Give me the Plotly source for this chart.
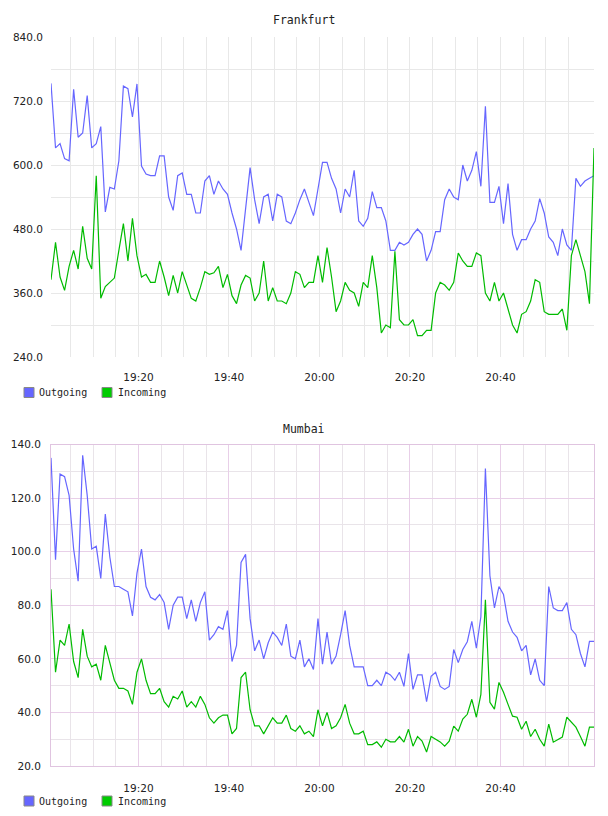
import pandas as pd
import plotly.graph_objects as go

# ---------------- data ----------------
times = pd.date_range("2024-01-01 19:00:40", periods=121, freq="1min")

fra_outgoing = [
    753, 632, 640, 612, 608, 742, 652, 660, 730, 632, 640, 672, 512, 558, 555, 608,
    748, 743, 690, 752, 598, 583, 580, 580, 617, 617, 540, 515, 580, 585, 545, 545,
    510, 510, 570, 580, 545, 570, 555, 545, 510, 480, 440, 520, 595, 535, 490, 540,
    545, 495, 545, 540, 495, 490, 510, 535, 555, 530, 505, 555, 605, 605, 575, 555,
    510, 555, 540, 590, 495, 485, 500, 550, 520, 520, 495, 440, 440, 455, 450, 455,
    470, 480, 470, 420, 440, 475, 475, 535, 555, 540, 535, 600, 570, 590, 625, 560,
    710, 530, 530, 560, 490, 565, 470, 440, 460, 460, 480, 495, 537, 510, 465, 455,
    430, 480, 450, 440, 575, 560, 570, 575, 580,
]
fra_incoming = [
    385, 455, 390, 365, 410, 440, 405, 485, 425, 405, 580, 350, 372, 380, 388, 440,
    490, 420, 500, 430, 390, 395, 380, 380, 420, 390, 355, 393, 360, 400, 375, 350,
    345, 370, 400, 395, 398, 410, 370, 395, 355, 340, 375, 393, 388, 345, 360, 420,
    345, 370, 345, 345, 340, 360, 400, 395, 370, 380, 380, 430, 380, 445, 390, 325,
    345, 380, 365, 360, 335, 380, 370, 430, 370, 285, 300, 295, 438, 310, 300, 300,
    310, 280, 280, 290, 290, 360, 380, 375, 365, 380, 435, 420, 410, 410, 435, 430,
    360, 345, 380, 345, 360, 330, 300, 285, 320, 325, 345, 385, 380, 325, 320, 320,
    320, 330, 290, 430, 460, 430, 400, 340, 632,
]
mum_outgoing = [
    135, 97, 129, 128, 121, 101, 89, 136, 121, 101, 102, 90, 114, 98, 87, 87,
    86, 85, 76, 92, 101, 87, 83, 82, 84, 81, 71, 80, 83, 83, 75, 82,
    74, 81, 85, 67, 69, 72, 71, 78, 59, 65, 96, 99, 75, 63, 67, 60,
    66, 70, 68, 65, 73, 61, 60, 67, 57, 60, 56, 75, 58, 70, 58, 61,
    69, 78, 65, 57, 57, 57, 50, 50, 52, 50, 55, 54, 52, 55, 49.7, 62,
    48.6, 54, 54, 44, 53.5, 55, 49.7, 48.6, 49.7, 63.5, 58.6, 63.5, 66.4, 74, 64, 75.7,
    131, 91, 79, 87, 84, 74, 70, 68, 63, 65, 54, 60, 52, 50, 87, 79,
    78, 78, 81, 71, 69, 62, 57, 66.5, 66.5,
]
mum_incoming = [
    86, 55, 67, 65, 73, 59, 53, 71, 61, 57, 58, 52, 65, 58, 52, 49,
    49, 48, 43, 55, 60, 52, 47, 47, 49, 44, 42, 46, 45, 48, 42, 44,
    42, 46, 43, 38, 36, 38, 39, 39, 32, 34, 53, 55, 41, 35, 35, 32,
    35, 38, 36, 36, 39, 34, 33, 35, 32, 33, 31, 41, 35, 40, 34, 35,
    38, 43, 36, 32, 32, 33, 28, 28, 29, 27, 30, 29, 29, 31, 28.9, 33.7,
    27.4, 31, 29.3, 25.2, 31, 30, 29, 27.4, 29.3, 34.9, 33, 37.5, 39.3, 44.9, 38.2, 46.7,
    82, 43.8, 41.2, 51.2, 47.5, 43, 38.6, 38.2, 33.7, 36.7, 31, 33.7, 30, 27.4, 35.6, 28.9,
    30, 30.8, 38.2, 36.3, 34.5, 31, 27.4, 34.5, 34.5,
]

series_names = ["Outgoing", "Incoming"]
titles = ["Frankfurt", "Mumbai"]
x_tick_labels = ["19:20", "19:40", "20:00", "20:20", "20:40"]
fra_ticks = [240, 360, 480, 600, 720, 840]
mum_ticks = [20, 40, 60, 80, 100, 120, 140]

# ---------------- style ----------------
BLUE = "#6666ff"
GREEN = "#00bb00"
SW_BLUE = "#6666ff"
SW_GREEN = "#00cc00"
W, H = 608, 816
MONO = "DejaVu Sans Mono"
SANS = "DejaVu Sans"
DAY = "2024-01-01 "

x_tickvals = [DAY + t for t in x_tick_labels]
minor_x = [t for t in pd.date_range(DAY + "19:05", DAY + "20:55", freq="5min")
           if t.strftime("%H:%M") not in x_tick_labels]

fig = go.Figure()


def add_lines(xa, ya, out_vals, in_vals):
    fig.add_trace(go.Scatter(x=times, y=out_vals, mode="lines", xaxis=xa, yaxis=ya,
                             line=dict(color=BLUE, width=1.2), showlegend=False,
                             name=series_names[0]))
    fig.add_trace(go.Scatter(x=times, y=in_vals, mode="lines", xaxis=xa, yaxis=ya,
                             line=dict(color=GREEN, width=1.2), showlegend=False,
                             name=series_names[1]))


add_lines("x", "y", fra_outgoing, fra_incoming)
add_lines("x2", "y2", mum_outgoing, mum_incoming)

xr = [times[0], times[-1]]
xdom = [51 / W, 594 / W]
fra_dom = [1 - 357 / H, 1 - 37 / H]
mum_dom = [1 - 766 / H, 1 - 444.5 / H]

tickfont = dict(family=SANS, size=10.5, color="#222222")

fra_grid = "#e8e8e8"
mum_major = "#e8cfe8"
mum_minor = "#e9e4e9"
mum_line = "#e0c4e0"


def xaxis_cfg(anchor, major_col, minor_col, frame):
    d = dict(domain=xdom, anchor=anchor, type="date", range=xr,
             tickvals=x_tickvals, ticktext=x_tick_labels,
             showgrid=True, gridcolor=major_col, gridwidth=1,
             minor=dict(tickvals=minor_x, showgrid=True, gridcolor=minor_col, gridwidth=1),
             zeroline=False, ticks="", automargin=False,
             tickfont=tickfont, ticklabelstandoff=12)
    if frame:
        d.update(showline=True, linecolor=mum_line, linewidth=1, mirror=True)
    else:
        d.update(showline=False)
    return d


fig.update_layout(
    width=W, height=H,
    margin=dict(l=0, r=0, t=0, b=0, autoexpand=False),
    paper_bgcolor="white", plot_bgcolor="white",
    showlegend=False,
    xaxis=xaxis_cfg("y", fra_grid, fra_grid, False),
    yaxis=dict(domain=fra_dom, anchor="x", range=[240, 840], tickvals=fra_ticks,
               tickformat=".1f", showgrid=False,
               minor=dict(dtick=60, tick0=0, showgrid=True, gridcolor=fra_grid, gridwidth=1),
               showline=False, zeroline=False, ticks="", automargin=False,
               tickfont=tickfont, ticklabelstandoff=7),
    xaxis2=xaxis_cfg("y2", mum_major, mum_minor, True),
    yaxis2=dict(domain=mum_dom, anchor="x2", range=[20, 140], tickvals=mum_ticks,
                tickformat=".1f", showgrid=True, gridcolor=mum_major, gridwidth=1,
                minor=dict(dtick=10, tick0=0, showgrid=True, gridcolor=mum_minor, gridwidth=1),
                showline=True, linecolor=mum_line, linewidth=1, mirror=True,
                zeroline=False, ticks="", automargin=False,
                tickfont=tickfont, ticklabelstandoff=7),
)

annotations = [
    dict(text=titles[0], x=0.5, y=1 - 20 / H),
    dict(text=titles[1], x=0.5, y=1 - 429 / H),
]
for a in annotations:
    a.update(xref="paper", yref="paper", showarrow=False, xanchor="center", yanchor="middle",
             font=dict(family=MONO, size=11.5, color="#222222"))

# manual legends (square swatch + label) under each chart
shapes = []
for ly in [392.5, 801]:
    for (sx, tx), name, col in zip([(24, 37), (102, 116)], series_names, [SW_BLUE, SW_GREEN]):
        shapes.append(dict(type="rect", xref="paper", yref="paper",
                           x0=sx / W, x1=(sx + 10) / W,
                           y0=1 - (ly + 5) / H, y1=1 - (ly - 5) / H,
                           fillcolor=col, line=dict(color="#888888", width=1)))
        annotations.append(dict(text=name, x=tx / W, y=1 - ly / H, xref="paper", yref="paper",
                                showarrow=False, xanchor="left", yanchor="middle",
                                font=dict(family=MONO, size=10, color="#222222")))

fig.update_layout(annotations=annotations, shapes=shapes)

fig.write_html("out.html")
